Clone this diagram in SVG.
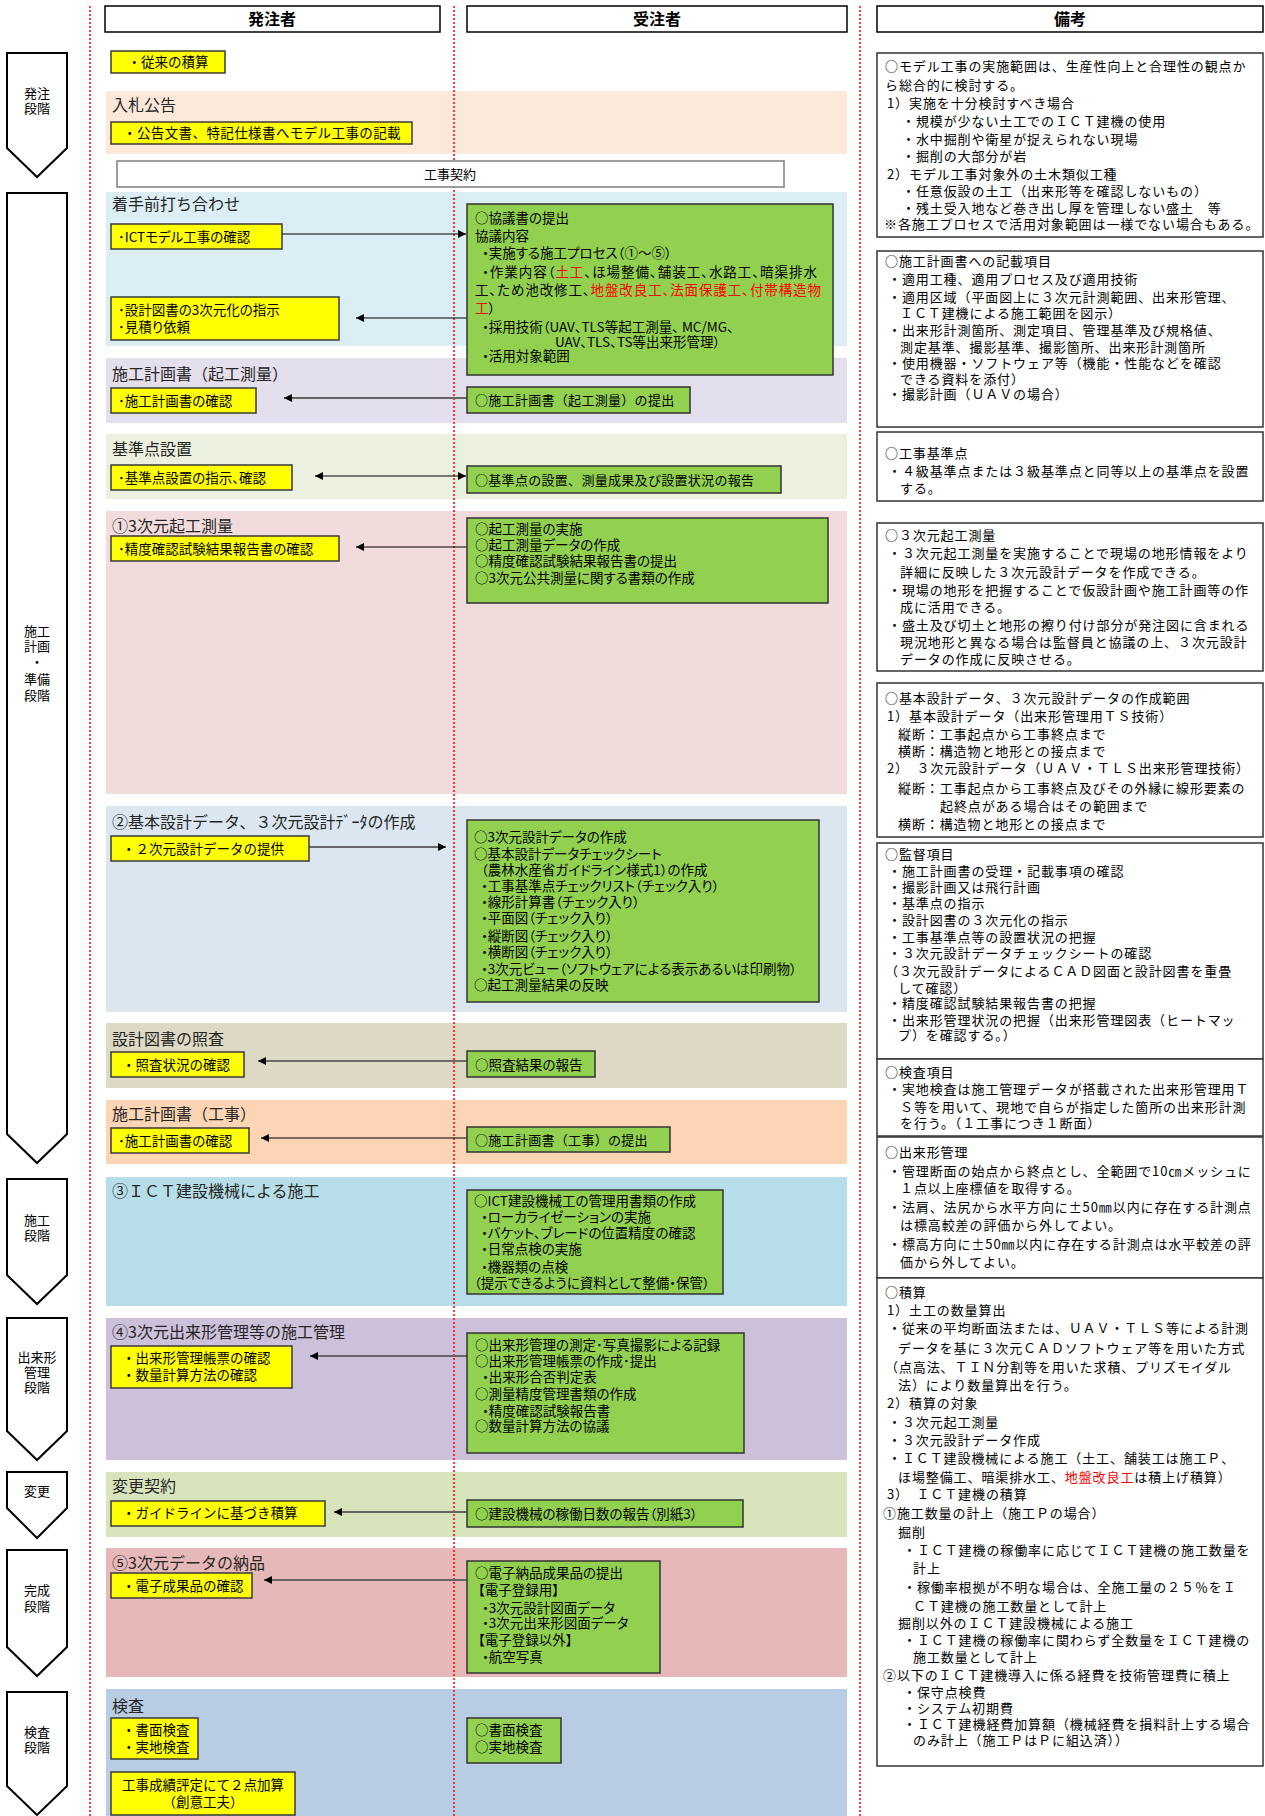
<svg xmlns="http://www.w3.org/2000/svg" width="1265" height="1816" viewBox="0 0 1265 1816">
<defs>
<style>
text{font-family:"Noto Sans CJK JP","Noto Sans",sans-serif;fill:#000}
.hd{font-size:16px;font-weight:bold;text-anchor:middle}
.stg{font-size:13px;text-anchor:middle}
.sec{font-size:16px;fill:#262626}
.y{font-size:13.5px}
.yp{font-size:13.5px;font-feature-settings:"palt"}
.g{font-size:13.5px;font-feature-settings:"palt"}
.gm{font-size:13px;letter-spacing:0.3px}
.r{font-size:13px;letter-spacing:0.9px}
.red{fill:#ff0000}
.band{stroke:none}
.ybox{fill:#ffff00;stroke:#3a3a3a;stroke-width:1.5}
.gbox{fill:#92d050;stroke:#333;stroke-width:1.5}
.nbox{fill:#fff;stroke:#333;stroke-width:1.5}
.hbox{fill:#fff;stroke:#000;stroke-width:1.5}
.arrowshape{fill:#fff;stroke:#000;stroke-width:2}
.dot{stroke:#ff0000;stroke-width:1.5;stroke-dasharray:2 2;fill:none}
.cb{stroke:#000;stroke-width:1.2;fill:none}
.cg{stroke:#666;stroke-width:2;fill:none}
</style>
<marker id="ah" viewBox="0 0 10 10" refX="10" refY="5" markerWidth="8" markerHeight="8" markerUnits="userSpaceOnUse" orient="auto-start-reverse">
<path d="M0,0 L10,5 L0,10 Z" fill="#000"/>
</marker>
</defs>
<rect x="0" y="0" width="1265" height="1816" fill="#fff"/>

<g id="bands">
<rect class="band" x="106" y="91" width="741" height="63" fill="#fde9d9"/>
<rect class="band" x="106" y="192" width="741" height="154" fill="#daeef3"/>
<rect class="band" x="106" y="358" width="741" height="65" fill="#e4dfec"/>
<rect class="band" x="106" y="434" width="741" height="65" fill="#ebf1de"/>
<rect class="band" x="106" y="511" width="741" height="283" fill="#f2dcdb"/>
<rect class="band" x="106" y="806" width="741" height="206" fill="#dce6f1"/>
<rect class="band" x="106" y="1023" width="741" height="65" fill="#ddd9c4"/>
<rect class="band" x="106" y="1100" width="741" height="64" fill="#fcd5b4"/>
<rect class="band" x="106" y="1177" width="741" height="129" fill="#b7dee8"/>
<rect class="band" x="106" y="1318" width="741" height="142" fill="#ccc0da"/>
<rect class="band" x="106" y="1472" width="741" height="65" fill="#d8e4bc"/>
<rect class="band" x="106" y="1548" width="741" height="129" fill="#e6b8b7"/>
<rect class="band" x="106" y="1689" width="741" height="127" fill="#b8cce4"/>
</g>

<g id="section-titles">
<text class="sec" x="112" y="111">入札公告</text>
<text class="sec" x="112" y="210">着手前打ち合わせ</text>
<text class="sec" x="112" y="380">施工計画書（起工測量）</text>
<text class="sec" x="112" y="455">基準点設置</text>
<text class="sec" x="112" y="532">①3次元起工測量</text>
<text class="sec" x="112" y="828">②基本設計データ、３次元設計ﾃﾞｰﾀの作成</text>
<text class="sec" x="112" y="1045">設計図書の照査</text>
<text class="sec" x="112" y="1120">施工計画書（工事）</text>
<text class="sec" x="112" y="1197">③ＩＣＴ建設機械による施工</text>
<text class="sec" x="112" y="1338">④3次元出来形管理等の施工管理</text>
<text class="sec" x="112" y="1492">変更契約</text>
<text class="sec" x="112" y="1569">⑤3次元データの納品</text>
<text class="sec" x="112" y="1712">検査</text>
</g>

<g id="dotted-lines">
<line class="dot" x1="90" y1="6" x2="90" y2="1816"/>
<line class="dot" x1="454" y1="6" x2="454" y2="1816"/>
<line class="dot" x1="860" y1="6" x2="860" y2="1816"/>
</g>

<g id="headers">
<g id="h-orderer"><rect class="hbox" x="105" y="6" width="335" height="26"/><text class="hd" x="272" y="25">発注者</text></g>
<g id="h-contractor"><rect class="hbox" x="467" y="6" width="380" height="26"/><text class="hd" x="657" y="25">受注者</text></g>
<g id="h-notes"><rect class="hbox" x="877" y="6" width="386" height="26"/><text class="hd" x="1070" y="25">備考</text></g>
</g>

<g id="stages">
<g id="stage-order"><path class="arrowshape" d="M7,53 H67 V148 L37,177 L7,148 Z"/><text class="stg" x="37" y="98">発注</text><text class="stg" x="37" y="113">段階</text></g>
<g id="stage-plan"><path class="arrowshape" d="M7,193 H67 V1134 L37,1163 L7,1134 Z"/><text class="stg" x="37" y="636">施工</text><text class="stg" x="37" y="651">計画</text><text class="stg" x="37" y="667">・</text><text class="stg" x="37" y="684">準備</text><text class="stg" x="37" y="700">段階</text></g>
<g id="stage-work"><path class="arrowshape" d="M7,1179 H67 V1275 L37,1304 L7,1275 Z"/><text class="stg" x="37" y="1225">施工</text><text class="stg" x="37" y="1240">段階</text></g>
<g id="stage-dekigata"><path class="arrowshape" d="M7,1318 H67 V1431 L37,1460 L7,1431 Z"/><text class="stg" x="37" y="1362">出来形</text><text class="stg" x="37" y="1377">管理</text><text class="stg" x="37" y="1392">段階</text></g>
<g id="stage-change"><path class="arrowshape" d="M7,1472 H67 V1508 L37,1538 L7,1508 Z"/><text class="stg" x="37" y="1496">変更</text></g>
<g id="stage-complete"><path class="arrowshape" d="M7,1550 H67 V1647 L37,1676 L7,1647 Z"/><text class="stg" x="37" y="1595">完成</text><text class="stg" x="37" y="1611">段階</text></g>
<g id="stage-inspect"><path class="arrowshape" d="M7,1692 H67 V1786 L37,1815 L7,1786 Z"/><text class="stg" x="37" y="1737">検査</text><text class="stg" x="37" y="1752">段階</text></g>
</g>

<g id="contract">
<rect x="117" y="161" width="667" height="26" fill="#fff" stroke="#7f7f7f" stroke-width="1.5"/>
<text x="450" y="179" font-size="13" text-anchor="middle">工事契約</text>
</g>

<g id="connectors">
<path class="cb" d="M282,234 H466" marker-end="url(#ah)"/>
<path class="cb" d="M467,318 H356" marker-end="url(#ah)"/>
<path class="cg" d="M467,398 H284" marker-end="url(#ah)"/>
<path class="cb" d="M315,476 H466" marker-start="url(#ah)" marker-end="url(#ah)"/>
<path class="cb" d="M467,547 H356" marker-end="url(#ah)"/>
<path class="cg" d="M309,847 H446" marker-end="url(#ah)"/>
<path class="cb" d="M467,1061 H258" marker-end="url(#ah)"/>
<path class="cb" d="M467,1138 H261" marker-end="url(#ah)"/>
<path class="cg" d="M467,1356 H310" marker-end="url(#ah)"/>
<path class="cg" d="M467,1512 H334" marker-end="url(#ah)"/>
<path class="cg" d="M467,1580 H264" marker-end="url(#ah)"/>
</g>

<g id="orderer-nodes">
<g id="y1"><rect class="ybox" x="111" y="51" width="114" height="22"/><text class="y" x="168" y="67" text-anchor="middle">・従来の積算</text></g>
<g id="y2"><rect class="ybox" x="111" y="122" width="301" height="22"/><text class="y" x="262" y="138" text-anchor="middle" letter-spacing="0.4">・公告文書、特記仕様書へモデル工事の記載</text></g>
<g id="y3"><rect class="ybox" x="111" y="224" width="171" height="25"/><text class="yp" x="118" y="242">･ICTモデル工事の確認</text></g>
<g id="y4"><rect class="ybox" x="111" y="297" width="228" height="43"/><text class="yp" x="118" y="315">･設計図書の3次元化の指示</text><text class="yp" x="118" y="332">･見積り依頼</text></g>
<g id="y5"><rect class="ybox" x="111" y="388" width="145" height="25"/><text class="yp" x="118" y="406">･施工計画書の確認</text></g>
<g id="y6"><rect class="ybox" x="111" y="465" width="181" height="25"/><text class="yp" x="118" y="483">･基準点設置の指示、確認</text></g>
<g id="y7"><rect class="ybox" x="111" y="536" width="228" height="25"/><text class="yp" x="118" y="554">･精度確認試験結果報告書の確認</text></g>
<g id="y8"><rect class="ybox" x="111" y="836" width="198" height="25"/><text class="y" x="122" y="854">・２次元設計データの提供</text></g>
<g id="y9"><rect class="ybox" x="111" y="1052" width="133" height="25"/><text class="y" x="122" y="1070">・照査状況の確認</text></g>
<g id="y10"><rect class="ybox" x="111" y="1128" width="138" height="25"/><text class="yp" x="118" y="1146">･施工計画書の確認</text></g>
<g id="y11"><rect class="ybox" x="111" y="1346" width="181" height="42"/><text class="y" x="122" y="1363">・出来形管理帳票の確認</text><text class="y" x="122" y="1380">・数量計算方法の確認</text></g>
<g id="y12"><rect class="ybox" x="111" y="1501" width="214" height="25"/><text class="y" x="122" y="1518">・ガイドラインに基づき積算</text></g>
<g id="y13"><rect class="ybox" x="111" y="1573" width="141" height="25"/><text class="y" x="122" y="1591">・電子成果品の確認</text></g>
<g id="y14"><rect class="ybox" x="111" y="1718" width="87" height="41"/><text class="y" x="122" y="1735">・書面検査</text><text class="y" x="122" y="1752">・実地検査</text></g>
<g id="y15"><rect class="ybox" x="111" y="1772" width="184" height="43"/><text class="y" x="203" y="1790" text-anchor="middle">工事成績評定にて２点加算</text><text class="y" x="203" y="1807" text-anchor="middle">（創意工夫）</text></g>
</g>

<g id="contractor-nodes">
<g id="g1"><rect class="gbox" x="467" y="204" width="366" height="171"/>
<text class="g" x="475" y="223">○協議書の提出</text>
<text class="g" x="475" y="241">協議内容</text>
<text class="g" x="482" y="258">・実施する施工プロセス（①～⑤）</text>
<text class="g" x="482" y="277" textLength="335" lengthAdjust="spacing">・作業内容（<tspan class="red">土工</tspan>、ほ場整備、舗装工、水路工、暗渠排水</text>
<text class="g" x="475" y="295" textLength="346" lengthAdjust="spacing">工、ため池改修工、<tspan class="red">地盤改良工、法面保護工、付帯構造物</tspan></text>
<text class="g" x="475" y="313"><tspan class="red">工</tspan>）</text>
<text class="g" x="482" y="332">・採用技術（UAV、TLS等起工測量、 MC/MG、</text>
<text class="g" x="555" y="347">UAV、TLS、TS等出来形管理）</text>
<text class="g" x="482" y="361">・活用対象範囲</text>
</g>
<g id="g2"><rect class="gbox" x="467" y="387" width="223" height="26"/><text class="gm" x="475" y="405">○施工計画書（起工測量）の提出</text></g>
<g id="g3"><rect class="gbox" x="467" y="466" width="314" height="27"/><text class="gm" x="475" y="485" letter-spacing="0.8">○基準点の設置、測量成果及び設置状況の報告</text></g>
<g id="g4"><rect class="gbox" x="467" y="518" width="361" height="85"/>
<text class="g" x="475" y="534">○起工測量の実施</text>
<text class="g" x="475" y="550">○起工測量データの作成</text>
<text class="g" x="475" y="566">○精度確認試験結果報告書の提出</text>
<text class="g" x="475" y="583">○3次元公共測量に関する書類の作成</text>
</g>
<g id="g5"><rect class="gbox" x="467" y="820" width="352" height="182"/>
<text class="g" x="474" y="842">○3次元設計データの作成</text>
<text class="g" x="474" y="859">○基本設計データチェックシート</text>
<text class="g" x="481" y="875">（農林水産省ガイドライン様式1）の作成</text>
<text class="g" x="481" y="891">・工事基準点チェックリスト（チェック入り）</text>
<text class="g" x="481" y="907">・線形計算書（チェック入り）</text>
<text class="g" x="481" y="923">・平面図（チェック入り）</text>
<text class="g" x="481" y="941">・縦断図（チェック入り）</text>
<text class="g" x="481" y="957">・横断図（チェック入り）</text>
<text class="g" x="481" y="974">・3次元ビュー（ソフトウェアによる表示あるいは印刷物）</text>
<text class="g" x="474" y="990">○起工測量結果の反映</text>
</g>
<g id="g6"><rect class="gbox" x="467" y="1051" width="128" height="26"/><text class="g" x="475" y="1070">○照査結果の報告</text></g>
<g id="g7"><rect class="gbox" x="467" y="1127" width="203" height="25"/><text class="gm" x="475" y="1145" letter-spacing="0.8">○施工計画書（工事）の提出</text></g>
<g id="g8"><rect class="gbox" x="467" y="1190" width="256" height="104"/>
<text class="g" x="474" y="1206">○ICT建設機械工の管理用書類の作成</text>
<text class="g" x="481" y="1222">・ローカライゼーションの実施</text>
<text class="g" x="481" y="1238">・バケット、ブレードの位置精度の確認</text>
<text class="g" x="481" y="1254">・日常点検の実施</text>
<text class="g" x="481" y="1272">・機器類の点検</text>
<text class="g" x="474" y="1288">（提示できるように資料として整備・保管）</text>
</g>
<g id="g9"><rect class="gbox" x="467" y="1333" width="277" height="120"/>
<text class="g" x="475" y="1350">○出来形管理の測定･写真撮影による記録</text>
<text class="g" x="475" y="1366">○出来形管理帳票の作成･提出</text>
<text class="g" x="482" y="1382">・出来形合否判定表</text>
<text class="g" x="475" y="1399">○測量精度管理書類の作成</text>
<text class="g" x="482" y="1416">・精度確認試験報告書</text>
<text class="g" x="475" y="1431">○数量計算方法の協議</text>
</g>
<g id="g10"><rect class="gbox" x="467" y="1500" width="276" height="27"/><text class="g" x="475" y="1519">○建設機械の稼働日数の報告（別紙3）</text></g>
<g id="g11"><rect class="gbox" x="467" y="1561" width="193" height="112"/>
<text class="g" x="475" y="1578">○電子納品成果品の提出</text>
<text class="g" x="478" y="1595">【電子登録用】</text>
<text class="g" x="482" y="1613">・3次元設計図面データ</text>
<text class="g" x="482" y="1628">・3次元出来形図面データ</text>
<text class="g" x="478" y="1645">【電子登録以外】</text>
<text class="g" x="482" y="1662">・航空写真</text>
</g>
<g id="g12"><rect class="gbox" x="467" y="1718" width="94" height="45"/><text class="g" x="475" y="1735">○書面検査</text><text class="g" x="475" y="1752">○実地検査</text></g>
</g>

<g id="notes">
<g id="n1"><rect class="nbox" x="877" y="53" width="386" height="184"/>
<text class="r" x="885" y="71">○モデル工事の実施範囲は、生産性向上と合理性の観点か</text>
<text class="r" x="885" y="90">ら総合的に検討する。</text>
<text class="r" x="887" y="108">1）実施を十分検討すべき場合</text>
<text class="r" x="902" y="126">・規模が少ない土工でのＩＣＴ建機の使用</text>
<text class="r" x="902" y="144">・水中掘削や衛星が捉えられない現場</text>
<text class="r" x="902" y="161">・掘削の大部分が岩</text>
<text class="r" x="887" y="179">2）モデル工事対象外の土木類似工種</text>
<text class="r" x="902" y="196">・任意仮設の土工（出来形等を確認しないもの）</text>
<text class="r" x="902" y="213">・残土受入地など巻き出し厚を管理しない盛土　等</text>
<text class="r" x="884" y="229">※各施工プロセスで活用対象範囲は一様でない場合もある。</text>
</g>
<g id="n2"><rect class="nbox" x="877" y="251" width="386" height="176"/>
<text class="r" x="885" y="266">○施工計画書への記載項目</text>
<text class="r" x="888" y="284">・適用工種、適用プロセス及び適用技術</text>
<text class="r" x="888" y="302">・適用区域（平面図上に３次元計測範囲、出来形管理、</text>
<text class="r" x="900" y="318">ＩＣＴ建機による施工範囲を図示）</text>
<text class="r" x="888" y="335">・出来形計測箇所、測定項目、管理基準及び規格値、</text>
<text class="r" x="900" y="352">測定基準、撮影基準、撮影箇所、出来形計測箇所</text>
<text class="r" x="888" y="368">・使用機器・ソフトウェア等（機能・性能などを確認</text>
<text class="r" x="900" y="384">できる資料を添付）</text>
<text class="r" x="888" y="399">・撮影計画（ＵＡＶの場合）</text>
</g>
<g id="n3"><rect class="nbox" x="877" y="432" width="386" height="69"/>
<text class="r" x="885" y="458">○工事基準点</text>
<text class="r" x="888" y="476">・４級基準点または３級基準点と同等以上の基準点を設置</text>
<text class="r" x="900" y="493">する。</text>
</g>
<g id="n4"><rect class="nbox" x="877" y="523" width="386" height="148"/>
<text class="r" x="885" y="540">○３次元起工測量</text>
<text class="r" x="888" y="558">・３次元起工測量を実施することで現場の地形情報をより</text>
<text class="r" x="900" y="577">詳細に反映した３次元設計データを作成できる。</text>
<text class="r" x="888" y="595">・現場の地形を把握することで仮設計画や施工計画等の作</text>
<text class="r" x="900" y="612">成に活用できる。</text>
<text class="r" x="888" y="630">・盛土及び切土と地形の擦り付け部分が発注図に含まれる</text>
<text class="r" x="900" y="647">現況地形と異なる場合は監督員と協議の上、３次元設計</text>
<text class="r" x="900" y="664">データの作成に反映させる。</text>
</g>
<g id="n5"><rect class="nbox" x="877" y="683" width="386" height="154"/>
<text class="r" x="885" y="703">○基本設計データ、３次元設計データの作成範囲</text>
<text class="r" x="887" y="721">1）基本設計データ（出来形管理用ＴＳ技術）</text>
<text class="r" x="898" y="739">縦断：工事起点から工事終点まで</text>
<text class="r" x="898" y="756">横断：構造物と地形との接点まで</text>
<text class="r" x="887" y="773">2）　３次元設計データ（ＵＡＶ・ＴＬＳ出来形管理技術）</text>
<text class="r" x="898" y="793">縦断：工事起点から工事終点及びその外縁に線形要素の</text>
<text class="r" x="940" y="811">起終点がある場合はその範囲まで</text>
<text class="r" x="898" y="829">横断：構造物と地形との接点まで</text>
</g>
<g id="n6"><rect class="nbox" x="877" y="843" width="386" height="216"/>
<text class="r" x="885" y="859">○監督項目</text>
<text class="r" x="888" y="876">・施工計画書の受理・記載事項の確認</text>
<text class="r" x="888" y="892">・撮影計画又は飛行計画</text>
<text class="r" x="888" y="908">・基準点の指示</text>
<text class="r" x="888" y="925">・設計図書の３次元化の指示</text>
<text class="r" x="888" y="942">・工事基準点等の設置状況の把握</text>
<text class="r" x="888" y="958">・３次元設計データチェックシートの確認</text>
<text class="r" x="885" y="976">（３次元設計データによるＣＡＤ図面と設計図書を重畳</text>
<text class="r" x="898" y="993">して確認）</text>
<text class="r" x="888" y="1008">・精度確認試験結果報告書の把握</text>
<text class="r" x="888" y="1025">・出来形管理状況の把握（出来形管理図表（ヒートマッ</text>
<text class="r" x="898" y="1040">プ）を確認する。）</text>
</g>
<g id="n7"><rect class="nbox" x="877" y="1059" width="386" height="77"/>
<text class="r" x="885" y="1077">○検査項目</text>
<text class="r" x="888" y="1094">・実地検査は施工管理データが搭載された出来形管理用Ｔ</text>
<text class="r" x="900" y="1112">Ｓ等を用いて、現地で自らが指定した箇所の出来形計測</text>
<text class="r" x="900" y="1128">を行う。（１工事につき１断面）</text>
</g>
<g id="n8"><rect class="nbox" x="877" y="1137" width="386" height="141"/>
<text class="r" x="885" y="1157">○出来形管理</text>
<text class="r" x="888" y="1176">・管理断面の始点から終点とし、全範囲で10㎝メッシュに</text>
<text class="r" x="900" y="1193">１点以上座標値を取得する。</text>
<text class="r" x="888" y="1212">・法肩、法尻から水平方向に±50㎜以内に存在する計測点</text>
<text class="r" x="900" y="1230">は標高較差の評価から外してよい。</text>
<text class="r" x="888" y="1249">・標高方向に±50㎜以内に存在する計測点は水平較差の評</text>
<text class="r" x="900" y="1267">価から外してよい。</text>
</g>
<g id="n9"><rect class="nbox" x="877" y="1278" width="386" height="488"/>
<text class="r" x="885" y="1297">○積算</text>
<text class="r" x="887" y="1315">1）土工の数量算出</text>
<text class="r" x="888" y="1333">・従来の平均断面法または、ＵＡＶ・ＴＬＳ等による計測</text>
<text class="r" x="898" y="1353">データを基に３次元ＣＡＤソフトウェア等を用いた方式</text>
<text class="r" x="885" y="1372">（点高法、ＴＩＮ分割等を用いた求積、プリズモイダル</text>
<text class="r" x="898" y="1390">法）により数量算出を行う。</text>
<text class="r" x="887" y="1408">2）積算の対象</text>
<text class="r" x="888" y="1427">・３次元起工測量</text>
<text class="r" x="888" y="1445">・３次元設計データ作成</text>
<text class="r" x="888" y="1463">・ＩＣＴ建設機械による施工（土工、舗装工は施工Ｐ、</text>
<text class="r" x="898" y="1482">ほ場整備工、暗渠排水工、<tspan class="red">地盤改良工</tspan>は積上げ積算）</text>
<text class="r" x="887" y="1499">3）　ＩＣＴ建機の積算</text>
<text class="r" x="883" y="1518">①施工数量の計上（施工Ｐの場合）</text>
<text class="r" x="898" y="1537">掘削</text>
<text class="r" x="903" y="1555">・ＩＣＴ建機の稼働率に応じてＩＣＴ建機の施工数量を</text>
<text class="r" x="913" y="1573">計上</text>
<text class="r" x="903" y="1592">・稼働率根拠が不明な場合は、全施工量の２５％をＩ</text>
<text class="r" x="913" y="1611">ＣＴ建機の施工数量として計上</text>
<text class="r" x="898" y="1628">掘削以外のＩＣＴ建設機械による施工</text>
<text class="r" x="903" y="1645">・ＩＣＴ建機の稼働率に関わらず全数量をＩＣＴ建機の</text>
<text class="r" x="913" y="1662">施工数量として計上</text>
<text class="r" x="883" y="1680">②以下のＩＣＴ建機導入に係る経費を技術管理費に積上</text>
<text class="r" x="903" y="1697">・保守点検費</text>
<text class="r" x="903" y="1713">・システム初期費</text>
<text class="r" x="903" y="1729">・ＩＣＴ建機経費加算額（機械経費を損料計上する場合</text>
<text class="r" x="913" y="1745">のみ計上（施工ＰはＰに組込済））</text>
</g>
</g>
</svg>
